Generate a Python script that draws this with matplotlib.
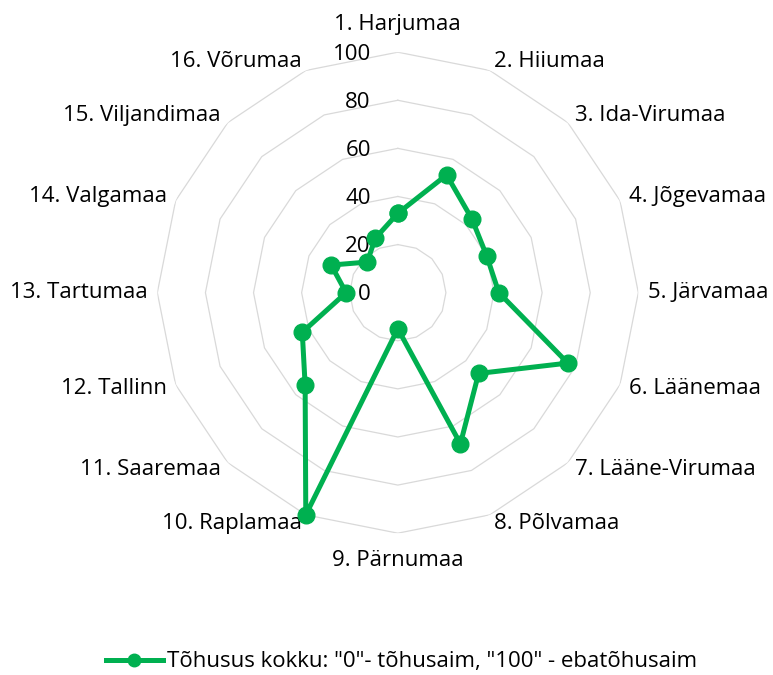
import matplotlib
matplotlib.use('Agg')
import matplotlib.pyplot as plt
import numpy as np

plt.rcParams['font.family'] = ['Open Sans', 'DejaVu Sans']

# regions and their efficiency score (0 = most efficient, 100 = least)
regions = ['1. Harjumaa', '2. Hiiumaa', '3. Ida-Virumaa', '4. Jõgevamaa',
           '5. Järvamaa', '6. Läänemaa', '7. Lääne-Virumaa', '8. Põlvamaa',
           '9. Pärnumaa', '10. Raplamaa', '11. Saaremaa', '12. Tallinn',
           '13. Tartumaa', '14. Valgamaa', '15. Viljandimaa', '16. Võrumaa']
values = [33, 53, 43.5, 40, 42, 76.5, 47.5, 68, 15, 100, 54.5, 43, 21.5, 30, 18, 24.5]
r_ticks = [0, 20, 40, 60, 80, 100]
series_name = 'Tõhusus kokku: "0"- tõhusaim, "100" - ebatõhusaim'

green = '#00B050'
grid_col = '#D9D9D9'
fs = 16

n = len(regions)
theta = np.arange(n) * 2 * np.pi / n
theta_c = np.append(theta, theta[0])

fig = plt.figure(figsize=(7.73, 6.75), dpi=100)
ax = fig.add_axes([0.2035, 0.2101, 0.6223, 0.7126], projection='polar')
ax.set_theta_zero_location('N')
ax.set_theta_direction(-1)
ax.set_ylim(0, 100)
ax.grid(False)
ax.spines['polar'].set_visible(False)
ax.set_xticks([])
ax.set_yticks([])

# polygon gridlines (Excel style)
for v in r_ticks[1:]:
    ax.plot(theta_c, [v] * (n + 1), color=grid_col, lw=0.9, zorder=1)

# radial tick labels
for v in r_ticks:
    ax.annotate(str(v), xy=(0, v), xytext=(-27, -2), textcoords='offset pixels',
                ha='right', va='center', fontsize=fs, color='#000000')

# category labels
for t, lab in zip(theta, regions):
    s = np.sin(t)
    if abs(s) < 0.01:
        ax.text(t, 111.5, lab, ha='center', va='center', fontsize=fs)
    else:
        ax.text(t, 104, lab, ha='left' if s > 0 else 'right', va='center', fontsize=fs)

vals_c = values + values[:1]
ax.plot(theta_c, vals_c, color=green, lw=3.6, marker='o', markersize=12,
        clip_on=False, zorder=3, label=series_name)

fig.legend(loc='center', bbox_to_anchor=(0.519, 0.0193), frameon=False,
           fontsize=fs, handlelength=2.6, handletextpad=0.15, markerscale=0.75)

fig.savefig('out.png', dpi=100, facecolor='white')
